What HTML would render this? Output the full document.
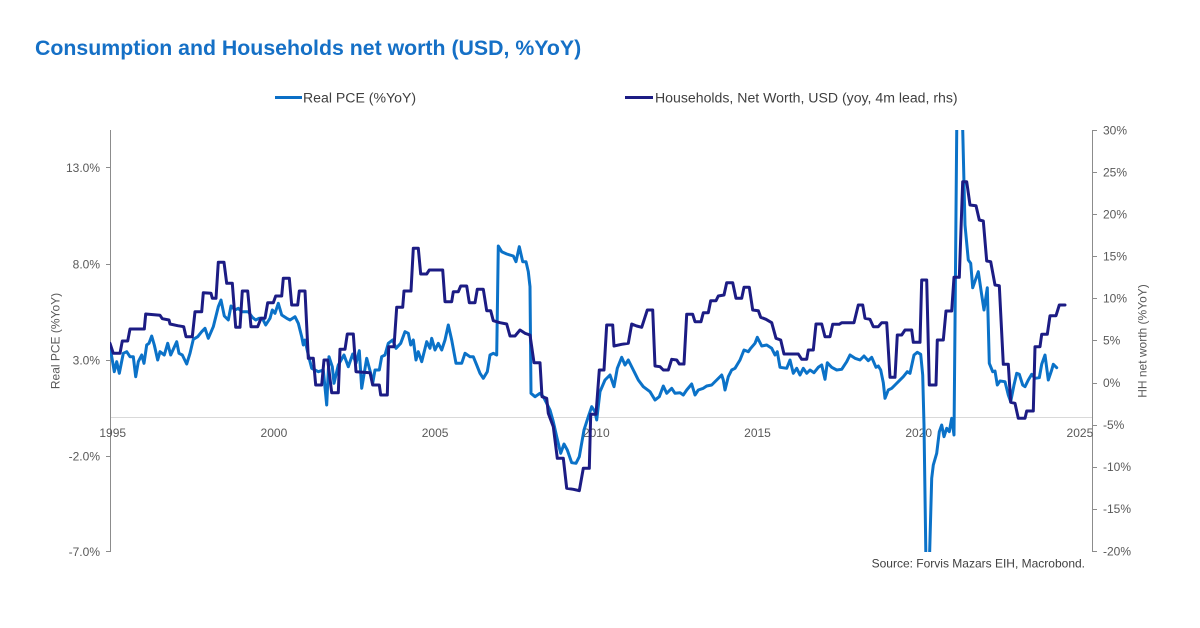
<!DOCTYPE html>
<html>
<head>
<meta charset="utf-8">
<style>
  html,body{margin:0;padding:0;background:#fff;}
  body{width:1200px;height:628px;overflow:hidden;}
  svg{display:block;}
  text{font-family:"Liberation Sans",Arial,sans-serif;}
</style>
</head>
<body>
<svg width="1200" height="628" viewBox="0 0 1200 628" xmlns="http://www.w3.org/2000/svg">
  <defs>
    <clipPath id="plot"><rect x="110" y="130" width="983" height="422"/></clipPath>
  </defs>
  <rect x="0" y="0" width="1200" height="628" fill="#ffffff"/>

  <!-- Title -->
  <text x="35" y="55" font-size="21.3" font-weight="bold" fill="#1570c6">Consumption and Households net worth (USD, %YoY)</text>

  <!-- Legend -->
  <line x1="275" y1="97.5" x2="302" y2="97.5" stroke="#0b6fc6" stroke-width="3"/>
  <text x="303" y="102.5" font-size="14.1" fill="#404040">Real PCE (%YoY)</text>
  <line x1="625" y1="97.5" x2="653" y2="97.5" stroke="#1c1c84" stroke-width="3"/>
  <text x="655" y="102.5" font-size="14.1" fill="#404040">Households, Net Worth, USD (yoy, 4m lead, rhs)</text>

  <!-- zero / x-axis line -->
  <line x1="110" y1="417.5" x2="1092" y2="417.5" stroke="#d9d9d9" stroke-width="1"/>

  <!-- Left axis -->
  <line x1="110.5" y1="130" x2="110.5" y2="552" stroke="#8c8c8c" stroke-width="1"/>
  <g stroke="#8c8c8c" stroke-width="1">
    <line x1="106" y1="167.5" x2="110" y2="167.5"/>
    <line x1="106" y1="264.5" x2="110" y2="264.5"/>
    <line x1="106" y1="360.5" x2="110" y2="360.5"/>
    <line x1="106" y1="456.5" x2="110" y2="456.5"/>
    <line x1="106" y1="551.5" x2="110" y2="551.5"/>
  </g>
  <g font-size="12" fill="#595959" text-anchor="end">
    <text x="100" y="172">13.0%</text>
    <text x="100" y="268.5">8.0%</text>
    <text x="100" y="364.5">3.0%</text>
    <text x="100" y="460.5">-2.0%</text>
    <text x="100" y="556">-7.0%</text>
  </g>
  <text transform="translate(59.5,341) rotate(-90)" font-size="12" fill="#595959" text-anchor="middle">Real PCE (%YoY)</text>

  <!-- Right axis -->
  <line x1="1092.5" y1="130" x2="1092.5" y2="552" stroke="#8c8c8c" stroke-width="1"/>
  <g stroke="#8c8c8c" stroke-width="1">
    <line x1="1093" y1="130.5" x2="1097" y2="130.5"/>
    <line x1="1093" y1="172.5" x2="1097" y2="172.5"/>
    <line x1="1093" y1="214.5" x2="1097" y2="214.5"/>
    <line x1="1093" y1="256.5" x2="1097" y2="256.5"/>
    <line x1="1093" y1="298.5" x2="1097" y2="298.5"/>
    <line x1="1093" y1="340.5" x2="1097" y2="340.5"/>
    <line x1="1093" y1="383.5" x2="1097" y2="383.5"/>
    <line x1="1093" y1="425.5" x2="1097" y2="425.5"/>
    <line x1="1093" y1="467.5" x2="1097" y2="467.5"/>
    <line x1="1093" y1="509.5" x2="1097" y2="509.5"/>
    <line x1="1093" y1="551.5" x2="1097" y2="551.5"/>
  </g>
  <g font-size="12" fill="#595959" text-anchor="start">
    <text x="1103" y="134.5">30%</text>
    <text x="1103" y="176.5">25%</text>
    <text x="1103" y="218.5">20%</text>
    <text x="1103" y="260.5">15%</text>
    <text x="1103" y="302.5">10%</text>
    <text x="1103" y="344.5">5%</text>
    <text x="1103" y="387">0%</text>
    <text x="1103" y="429">-5%</text>
    <text x="1103" y="471">-10%</text>
    <text x="1103" y="513">-15%</text>
    <text x="1103" y="555.5">-20%</text>
  </g>
  <text transform="translate(1146.5,341) rotate(-90)" font-size="12" fill="#595959" text-anchor="middle">HH net worth (%YoY)</text>

  <!-- X labels -->
  <g font-size="12" fill="#595959" text-anchor="middle">
    <text x="112.7" y="437">1995</text>
    <text x="273.9" y="437">2000</text>
    <text x="435.1" y="437">2005</text>
    <text x="596.3" y="437">2010</text>
    <text x="757.5" y="437">2015</text>
    <text x="918.7" y="437">2020</text>
    <text x="1079.9" y="437">2025</text>
  </g>

  <!-- Series -->
  <g clip-path="url(#plot)" fill="none" stroke-linejoin="round" stroke-linecap="round">
    <polyline stroke="#0b72c8" stroke-width="3" points="110,346.7 112.3,360 114.3,371.7 116.7,361.7 119.3,373.3 123.3,353.3 126.7,351.7 130,356.7 133.3,356.7 135.7,376.7 138.3,361.7 141.7,355 144,363.3 146.7,345 149,343.3 151.7,336 154.3,345 157.7,360 160,351.7 164.3,355 167.7,343.3 170.7,355 176.7,341.7 179,353.3 182.3,355 186.7,364 190,353.3 193.3,339.3 197.7,336.7 201.7,331.7 205,328.3 208.3,338.3 213.3,326.7 218.3,306.7 221,300 224.3,316 228.3,320 231,306 235,310 238.3,308.3 241.7,311.7 248.3,311.7 252.3,317.3 255.7,320 259,318.3 262.3,318.3 265.7,325 270,318.3 272.3,310 275,313.3 278.3,303.3 281.7,315 286.7,318.3 290,320 295,316.7 298.3,323.3 301.7,336.7 303.3,345 305,340 308.3,355 311.7,368.3 315,370 318.3,371.7 323.3,370 326.7,405 329,356.7 332.3,366.7 334,383.3 338.3,365 344,355 348.3,366.7 352.7,354 356,363.3 359.3,350.7 361.7,388.3 366.7,358.3 370.7,373.3 372.7,383.3 375,370 379.3,370 381.7,356.7 385,355 388.3,343.3 392.7,340 396,348.3 400.7,343.3 405,331.7 408.3,333.3 410.7,345 413.3,340 416,360 418.3,351.7 421.7,361.7 426.7,341.7 430,348.3 431.7,338.3 435,350 438.3,343.3 441.7,350 445,340 448.3,325 451.7,340 456,363.3 461.7,363.3 465,353.3 470,356.7 473.3,356.7 476.7,365 480,373.3 483.3,378.3 487.3,371.7 490,355 493.3,353.3 496.7,355 498.3,246 501.7,251.7 506.7,254 513.3,256 516,261.7 519.3,246.7 522.7,261.7 526,261.7 528.3,271.7 530,286.7 531,393.3 535,396.7 540,393.3 543.3,396.7 546.7,403.3 550,410 553.3,421.7 556.7,436.7 560.7,453.3 564,444 567.3,450 571.7,462.7 576,463.3 579.3,456.7 584,430 588.3,416.7 591.7,406.7 595,411.7 596.7,420 600,391.7 605,380 610,375 614,386.7 617.3,368.3 621.7,357.3 625,365 628.3,360 633.3,370 638.3,380 643.3,386.7 650,391.7 655,400 659.3,396.7 663.3,386 666.7,393.3 671.7,388.3 675,393.3 680,392.7 683.3,395 686.7,390 691.7,384 695,395 698.3,390 703.3,388.3 706.7,386 711.7,385 716.7,380 721.7,375 723.3,380 725,390 728.3,376.7 731.7,370 735,368.3 740,360 744,350 748.3,351.7 750.7,348.3 755,343.3 757.3,337.3 761.7,346 766.7,345 771.7,348.3 775,355 777.3,351.7 780,367.3 786.7,368.3 790,360 793.3,373.3 796.7,368.3 800,375 803.3,368.3 806.7,373.3 810,370 814,372.7 818.3,367.3 821.7,365 825,379.3 827.3,362.7 831.7,367.3 836.7,370 841.7,369.3 846.7,361.7 850,355 855,358.3 860,360 864,356 868.3,360.7 871.7,357.3 876,367.3 878.3,366 880.7,370 883.3,382.7 885,398.3 888.3,390 891.7,388.3 895,385 898.3,381.7 903.3,376.7 907.3,371.7 910,373.3 914,355 917.3,352.3 920.7,354.3 922.7,375 924,425 926,565 929.3,565 931.7,478.3 933.3,465 936.7,453.3 939.3,431.7 941.7,425 944,436.7 946.7,428.3 949.3,431.7 951.7,418.3 954,435 955,325 957,100 962,100 965,225 968.3,260 970.7,263.3 972.7,287.7 976,278.3 978.3,271.7 981.7,295 984,310 987.3,287.7 989.3,363.3 992.7,371.7 995,371 997.3,385 1000,381 1005,381.7 1008.3,395 1010.7,401.7 1014,385 1016.7,373.3 1019.3,374.3 1022.7,385 1025,386.7 1028.3,380 1031.7,374.3 1035,378.3 1039.3,377.7 1041.7,364.3 1045,355 1048.3,380 1051.7,370 1053.3,364.3 1056.7,367.7"/>
    <polyline stroke="#1c1c84" stroke-width="3" points="110,343.3 113.3,353.3 120,353.3 122.3,341 127.7,341 130,329 144.3,329 145.7,314 160,315.3 162.3,318.7 169,320 170,324 177.7,325.7 183.7,326.7 186,336.7 192.3,336.7 195,311.7 201.7,311.7 203.3,292.7 211,293.3 212.3,298.3 216,298.3 218.3,262.3 224,262.3 226.7,283.3 232.3,283.3 235.7,327.3 240,327.3 242.3,291 247.7,291 251,326.7 257.7,326.7 261,318.3 265,318.3 267.7,302.7 273.3,302.7 275.7,296 281.7,296 283.3,278.3 289.3,278.3 291.7,305 297.7,305 299.3,291 305,291 308.3,358.3 313.3,358.3 315.7,385 321.7,385 324,360 327.7,360 331.7,392.7 338.3,392.7 340,349.3 345,349.3 347.3,334 353.3,334 356,371.7 370,372.7 372.7,385 379.3,385 380.7,395 387.3,395 388.7,346.7 394,346.7 396.7,307.3 402.7,307.3 404,291 411,291 413.3,248.3 418.3,248.3 420.7,274 426.7,274 429.3,270 442.7,270 445,301.7 451.7,301.7 453.3,291.7 458.3,291.7 460.7,286 466.7,286 469.3,302.7 475,302.7 477.3,289.3 483.3,289.3 486.7,310.7 490.7,310.7 493.3,320.7 500,322.7 506.7,324 510,336 515,336 520,330 525,333.3 530,335 534,362.7 540,362.7 542,396.7 546.7,398.3 548.3,413.3 553.3,426.7 557.3,458.3 563.3,458.3 566.7,488.3 573.3,489.3 579.3,490.7 583.3,468.3 589.3,468.3 590.7,414.3 596,414.3 599.3,370 604,370 606.7,325 612.7,325 614,346 621.7,344.3 628.3,343.3 631.7,324 636.7,326 641.7,327.3 647.3,310 652.7,310 655,366 660,366.7 663.3,370 668.3,370 671.7,359.3 676.7,360 679.3,364 684,364 686.7,314.3 692.7,314.3 695,321.7 701,321.7 703.3,312.7 708.3,312.7 710.7,300.7 716,300.7 718.3,296 724,295 726.7,282.7 732.7,282.7 736,298.3 741.7,298.3 744,287.3 749.3,287.3 752.7,310 758.3,310.7 760.7,317.3 766,319.3 771.7,322.7 776,338.3 780.7,340 784,354 798.3,354 801.7,359.3 806.7,359.3 808.3,350 813.3,350 816,324 821.7,324 825,336.7 830,336.7 832.7,324.3 839.3,324.3 841.7,322.7 854,322.7 858.3,305 862.7,305 865,318.3 870,319.3 873.3,326.7 878.3,326.7 881.7,322.7 886.7,322.7 890,377.3 895,377.3 897.3,335 901.7,335 905,330 911.7,330 913.3,342.3 920,342.3 921.7,280 926.7,280 929.3,385 936,385 937.3,340 943.3,340 946,311 951.7,311 954,277.3 959.3,277.3 962.7,181.7 966.7,181.7 970,205 976,205.7 979.3,220 983.3,221 986.7,261 990.7,261.7 995,285 999.3,285.7 1003.3,364.3 1008.3,364.3 1010.7,402.3 1015,403.3 1018.3,418.3 1025,418.3 1026.7,411 1033.3,411 1035,346.7 1040,346.7 1041.7,334.3 1047.3,334.3 1050,315.7 1056,315.7 1059.3,305 1065,305"/>
  </g>

  <!-- Source -->
  <text x="1085" y="567.5" font-size="12" fill="#404040" text-anchor="end">Source: Forvis Mazars EIH, Macrobond.</text>
</svg>
</body>
</html>
